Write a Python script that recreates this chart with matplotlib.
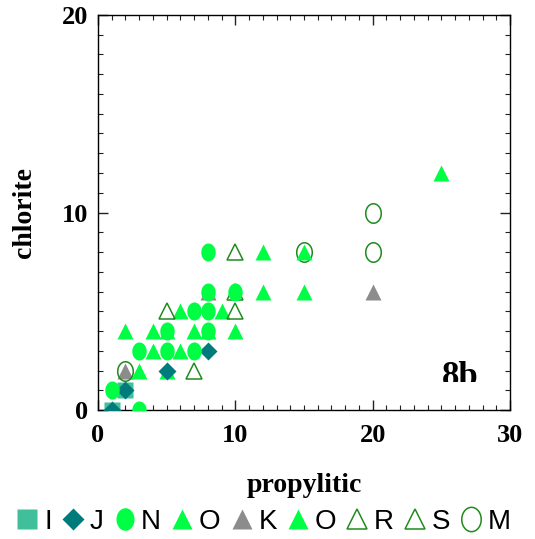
import numpy as np
import matplotlib
matplotlib.use('Agg')
import matplotlib.pyplot as plt
from matplotlib.patches import Rectangle
from matplotlib.font_manager import FontProperties

# series data (propylitic, chlorite)
i_x = [1, 2]
i_y = [0, 1]
j_x = [1, 2, 5, 8]
j_y = [0, 1, 2, 3]
n_x = [1, 3, 3, 5, 5, 7, 7, 8, 8, 8, 8, 10]
n_y = [1, 0, 3, 3, 4, 3, 5, 4, 5, 6, 8, 6]
o1_x = [2, 3, 4, 4, 5, 5, 6, 6, 7]
o1_y = [4, 2, 3, 4, 4, 2, 3, 5, 4]
k_x = [2, 8, 20]
k_y = [2, 6, 6]
o2_x = [8, 9, 10, 12, 12, 15, 15, 25]
o2_y = [4, 5, 4, 6, 8, 6, 8, 12]
r_x = [5, 10, 10]
r_y = [5, 5, 8]
s_x = [7, 10]
s_y = [2, 6]
m_x = [2, 15, 20, 20]
m_y = [2, 8, 8, 10]

green = '#00ff44'
dkgreen = '#1f8a1f'

# slightly tall ellipse marker, like the original
t = np.linspace(0, 2 * np.pi, 60)
ell = np.column_stack([0.8 * np.cos(t), np.sin(t)])

fig = plt.figure(figsize=(5.35, 5.39), dpi=100)
ax = fig.add_axes([0.1832, 0.2393, 0.7701, 0.7329])

hk, = ax.plot(k_x, k_y, '^', ms=12, color='#8c8c8c', mec='none', zorder=2, label='K')
hm, = ax.plot(m_x, m_y, ls='none', marker=ell, ms=14, mfc='none', mec=dkgreen, mew=1.1, zorder=3, label='M')
ho1, = ax.plot(o1_x, o1_y, '^', ms=12, color=green, mec='none', zorder=4, label='O')
ho2, = ax.plot(o2_x, o2_y, '^', ms=12, color=green, mec='none', zorder=4, label='O')
hr, = ax.plot(r_x, r_y, '^', ms=12, mfc='none', mec=dkgreen, mew=1.1, zorder=4, label='R')
hs, = ax.plot(s_x, s_y, '^', ms=12, mfc='none', mec=dkgreen, mew=1.1, zorder=4, label='S')
hi, = ax.plot(i_x, i_y, 's', ms=11, color='#40bf9a', mec='none', zorder=5, label='I')
hj, = ax.plot(j_x, j_y, 'D', ms=8.7, color='#007b7b', mec='none', zorder=6, label='J')
hn, = ax.plot(n_x, n_y, ls='none', marker=ell, ms=13, color=green, mec='none', zorder=7, label='N')

ax.set_xlim(0, 30)
ax.set_ylim(0, 20)
ax.set_xticks([0, 10, 20, 30])
ax.set_yticks([0, 10, 20])
ax.set_xticks(np.arange(0, 31, 1), minor=True)
ax.set_yticks(np.arange(0, 21, 1), minor=True)
ax.tick_params(which='both', direction='in', top=True, right=True, color='#222222')
ax.tick_params(which='major', length=7, width=1)
ax.tick_params(which='minor', length=3.6, width=0.8)
ax.tick_params(axis='x', pad=10)
ax.tick_params(axis='y', pad=7)
for sp in ax.spines.values():
    sp.set_linewidth(1)

tickfont = FontProperties(family='Liberation Serif', weight='bold', size=19)
for lab in ax.get_xticklabels() + ax.get_yticklabels():
    lab.set_fontproperties(tickfont)

labfont = {'family': 'Liberation Serif', 'weight': 'bold', 'size': 20}
ax.set_xlabel('propylitic', fontdict=labfont, labelpad=19)
ax.set_ylabel('chlorite', fontdict=labfont, labelpad=18)

txt = ax.text(25.05, 1.2, '8b', fontsize=25, family='Liberation Serif', weight='bold',
              ha='left', va='baseline', zorder=8)
clip = Rectangle((20, 1.42), 10, 5, transform=ax.transData)
txt.set_clip_path(clip)
txt.set_clip_on(True)

fig.legend(handles=[hi, hj, hn, ho1, hk, ho2, hr, hs, hm],
           labels=['I', 'J', 'N', 'O', 'K', 'O', 'R', 'S', 'M'],
           loc='center', bbox_to_anchor=(0.493, 0.032), ncol=9, frameon=False,
           prop={'family': 'Liberation Sans', 'size': 20},
           handlelength=0.8, handletextpad=0.2, columnspacing=0.36,
           markerscale=1.25, borderaxespad=0, borderpad=0)

fig.savefig('out.png', dpi=100)
